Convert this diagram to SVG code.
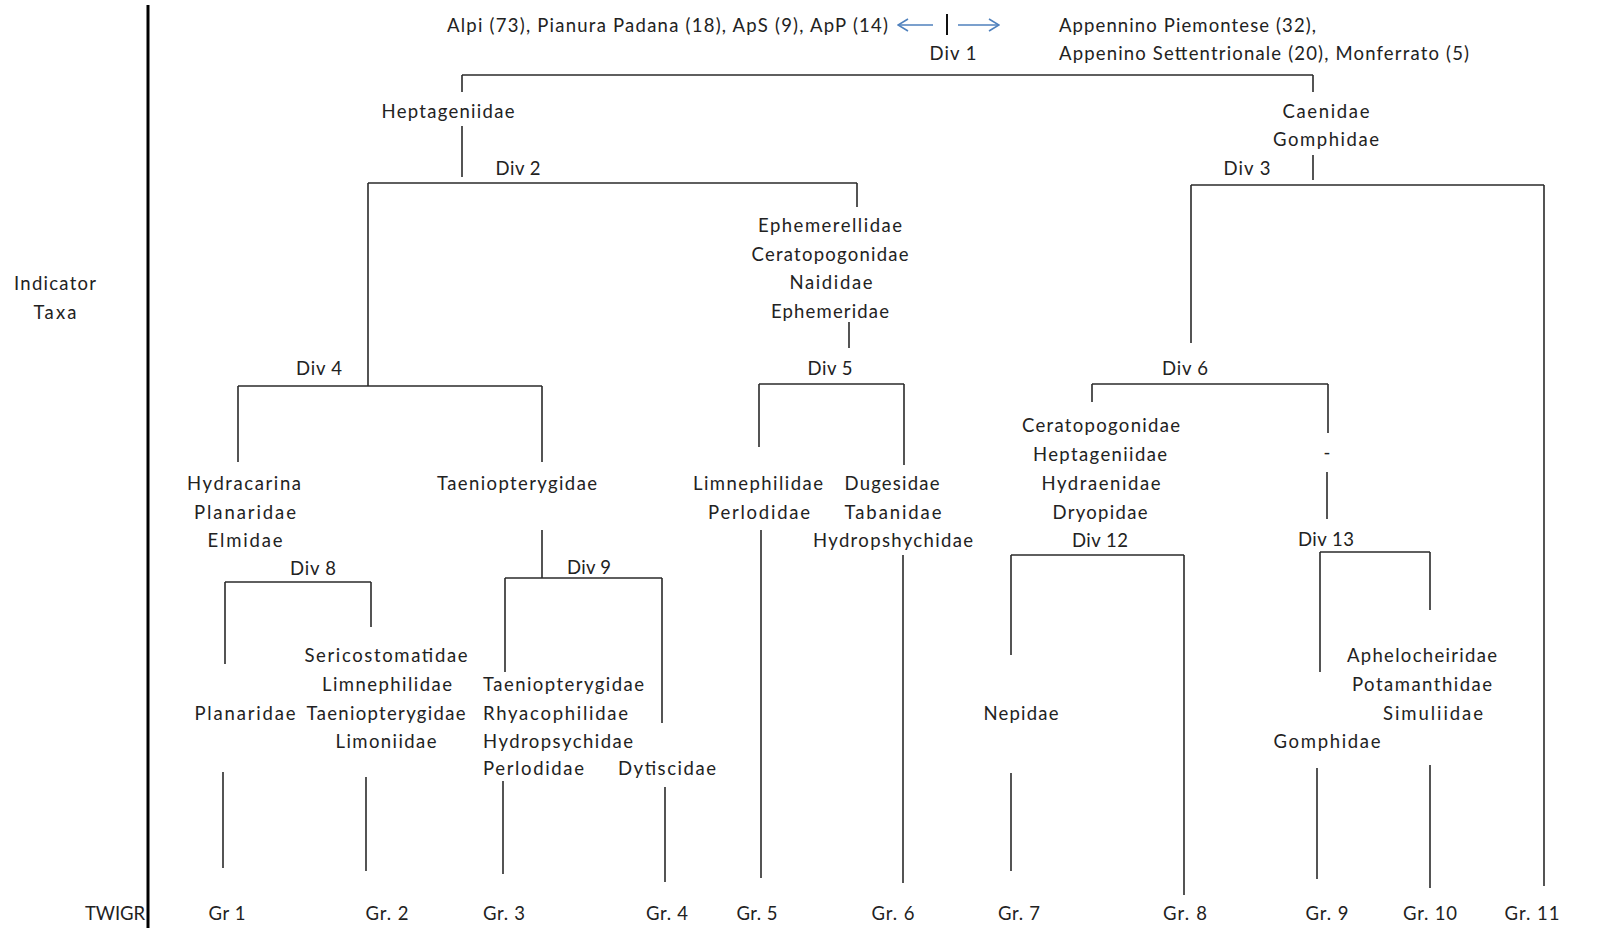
<svg xmlns="http://www.w3.org/2000/svg" width="1615" height="928" viewBox="0 0 1615 928">
<defs>
<style>
text{font-family:Lato,"Liberation Sans",sans-serif;font-size:18.5px;fill:#222}
.m{text-anchor:middle}
.s{text-anchor:start}
.ln line{stroke:#2a2a2a;stroke-width:1.6;fill:none}
.ax{stroke:#000;stroke-width:3}
.ar{stroke:#4f81bd;stroke-width:1.6;fill:none}
</style>
<marker id="ah" viewBox="0 0 12 14" refX="11" refY="7" markerWidth="12" markerHeight="14" markerUnits="userSpaceOnUse" orient="auto">
<path d="M1,1 L11,7 L1,13" fill="none" stroke="#4f81bd" stroke-width="1.6"/>
</marker>
</defs>
<rect width="1615" height="928" fill="#fff"/>

<g id="axis"><line class="ax" x1="148" y1="5" x2="148" y2="928"/></g>

<g id="side-labels">
<text class="m" x="55" y="290" textLength="82" lengthAdjust="spacing">Indicator</text>
<text class="m" x="55" y="319" textLength="43" lengthAdjust="spacing">Taxa</text>
<text class="s" x="85" y="920" textLength="60" lengthAdjust="spacing">TWIGR</text>
</g>

<g id="root">
<text class="s" x="447" y="32" textLength="441" lengthAdjust="spacing">Alpi (73), Pianura Padana (18), ApS (9), ApP (14)</text>
<text class="s" x="1059" y="32" textLength="257" lengthAdjust="spacing">Appennino Piemontese (32),</text>
<text class="s" x="1059" y="60" textLength="410" lengthAdjust="spacing">Appenino Settentrionale (20), Monferrato (5)</text>
<line class="ar" x1="933" y1="25" x2="898" y2="25" marker-end="url(#ah)"/>
<line x1="947" y1="14" x2="947" y2="35" stroke="#111" stroke-width="2"/>
<line class="ar" x1="958" y1="25" x2="999" y2="25" marker-end="url(#ah)"/>
<text class="m" x="953" y="60" textLength="47" lengthAdjust="spacing">Div 1</text>
</g>

<g id="n-heptageniidae"><text class="m" x="448" y="118" textLength="133" lengthAdjust="spacing">Heptageniidae</text></g>
<g id="n-caenidae">
<text class="m" x="1326" y="118" textLength="87" lengthAdjust="spacing">Caenidae</text>
<text class="m" x="1326" y="146" textLength="106" lengthAdjust="spacing">Gomphidae</text>
</g>
<g id="div2"><text class="m" x="518" y="175" textLength="45" lengthAdjust="spacing">Div 2</text></g>
<g id="div3"><text class="m" x="1247" y="175" textLength="47" lengthAdjust="spacing">Div 3</text></g>
<g id="n-ephemerellidae">
<text class="m" x="830" y="232" textLength="144" lengthAdjust="spacing">Ephemerellidae</text>
<text class="m" x="830" y="261" textLength="157" lengthAdjust="spacing">Ceratopogonidae</text>
<text class="m" x="831" y="289" textLength="83" lengthAdjust="spacing">Naididae</text>
<text class="m" x="830" y="318" textLength="118" lengthAdjust="spacing">Ephemeridae</text>
</g>
<g id="div4"><text class="m" x="319" y="375" textLength="46" lengthAdjust="spacing">Div 4</text></g>
<g id="div5"><text class="m" x="830" y="375" textLength="45" lengthAdjust="spacing">Div 5</text></g>
<g id="div6"><text class="m" x="1185" y="375" textLength="46" lengthAdjust="spacing">Div 6</text></g>
<g id="n-ceratopogonidae">
<text class="m" x="1101" y="432" textLength="158" lengthAdjust="spacing">Ceratopogonidae</text>
<text class="m" x="1100" y="461" textLength="134" lengthAdjust="spacing">Heptageniidae</text>
<text class="m" x="1101" y="490" textLength="119" lengthAdjust="spacing">Hydraenidae</text>
<text class="m" x="1100" y="519" textLength="95" lengthAdjust="spacing">Dryopidae</text>
<text class="m" x="1100" y="547" textLength="56" lengthAdjust="spacing">Div 12</text>
</g>
<g id="n-dash"><text class="m" x="1327" y="459">-</text></g>
<g id="div13"><text class="m" x="1326" y="546" textLength="56" lengthAdjust="spacing">Div 13</text></g>
<g id="n-hydracarina">
<text class="m" x="244" y="490" textLength="114" lengthAdjust="spacing">Hydracarina</text>
<text class="m" x="245" y="519" textLength="102" lengthAdjust="spacing">Planaridae</text>
<text class="m" x="245" y="547" textLength="75" lengthAdjust="spacing">Elmidae</text>
</g>
<g id="n-taeniopterygidae"><text class="m" x="517" y="490" textLength="160" lengthAdjust="spacing">Taeniopterygidae</text></g>
<g id="n-limnephilidae">
<text class="m" x="758" y="490" textLength="130" lengthAdjust="spacing">Limnephilidae</text>
<text class="m" x="759" y="519" textLength="102" lengthAdjust="spacing">Perlodidae</text>
</g>
<g id="n-dugesidae">
<text class="m" x="892" y="490" textLength="95" lengthAdjust="spacing">Dugesidae</text>
<text class="m" x="893" y="519" textLength="97" lengthAdjust="spacing">Tabanidae</text>
<text class="m" x="893" y="547" textLength="160" lengthAdjust="spacing">Hydropshychidae</text>
</g>
<g id="div8"><text class="m" x="313" y="575" textLength="46" lengthAdjust="spacing">Div 8</text></g>
<g id="div9"><text class="m" x="589" y="574" textLength="44" lengthAdjust="spacing">Div 9</text></g>
<g id="n-planaridae"><text class="m" x="245" y="720" textLength="101" lengthAdjust="spacing">Planaridae</text></g>
<g id="n-sericostomatidae">
<text class="m" x="386" y="662" textLength="163" lengthAdjust="spacing">Sericostomatidae</text>
<text class="m" x="387" y="691" textLength="130" lengthAdjust="spacing">Limnephilidae</text>
<text class="m" x="386" y="720" textLength="159" lengthAdjust="spacing">Taeniopterygidae</text>
<text class="m" x="386" y="748" textLength="101" lengthAdjust="spacing">Limoniidae</text>
</g>
<g id="n-taeniopterygidae2">
<text class="s" x="483" y="691" textLength="161" lengthAdjust="spacing">Taeniopterygidae</text>
<text class="s" x="483" y="720" textLength="145" lengthAdjust="spacing">Rhyacophilidae</text>
<text class="s" x="483" y="748" textLength="150" lengthAdjust="spacing">Hydropsychidae</text>
<text class="s" x="483" y="775" textLength="101" lengthAdjust="spacing">Perlodidae</text>
</g>
<g id="n-dytiscidae"><text class="m" x="667" y="775" textLength="98" lengthAdjust="spacing">Dytiscidae</text></g>
<g id="n-nepidae"><text class="m" x="1021" y="720" textLength="75" lengthAdjust="spacing">Nepidae</text></g>
<g id="n-aphelocheiridae">
<text class="m" x="1422" y="662" textLength="150" lengthAdjust="spacing">Aphelocheiridae</text>
<text class="m" x="1422" y="691" textLength="140" lengthAdjust="spacing">Potamanthidae</text>
<text class="m" x="1433" y="720" textLength="100" lengthAdjust="spacing">Simuliidae</text>
</g>
<g id="n-gomphidae"><text class="m" x="1327" y="748" textLength="107" lengthAdjust="spacing">Gomphidae</text></g>

<g id="groups">
<text class="m" x="227" y="920" textLength="37" lengthAdjust="spacing">Gr 1</text>
<text class="m" x="387" y="920" textLength="43" lengthAdjust="spacing">Gr. 2</text>
<text class="m" x="504" y="920" textLength="42" lengthAdjust="spacing">Gr. 3</text>
<text class="m" x="667" y="920" textLength="42" lengthAdjust="spacing">Gr. 4</text>
<text class="m" x="757" y="920" textLength="41" lengthAdjust="spacing">Gr. 5</text>
<text class="m" x="893" y="920" textLength="43" lengthAdjust="spacing">Gr. 6</text>
<text class="m" x="1019" y="920" textLength="42" lengthAdjust="spacing">Gr. 7</text>
<text class="m" x="1185" y="920" textLength="44" lengthAdjust="spacing">Gr. 8</text>
<text class="m" x="1327" y="920" textLength="43" lengthAdjust="spacing">Gr. 9</text>
<text class="m" x="1430" y="920" textLength="54" lengthAdjust="spacing">Gr. 10</text>
<text class="m" x="1532" y="920" textLength="55" lengthAdjust="spacing">Gr. 11</text>
</g>

<g id="connectors" class="ln">
<line x1="462" y1="75" x2="1313" y2="75"/>
<line x1="462" y1="75" x2="462" y2="92"/>
<line x1="1313" y1="75" x2="1313" y2="92"/>
<line x1="462" y1="126" x2="462" y2="177"/>
<line x1="368" y1="183" x2="857" y2="183"/>
<line x1="368" y1="183" x2="368" y2="386"/>
<line x1="857" y1="183" x2="857" y2="207"/>
<line x1="1313" y1="155" x2="1313" y2="180"/>
<line x1="1191" y1="185" x2="1544" y2="185"/>
<line x1="1191" y1="185" x2="1191" y2="343"/>
<line x1="1544" y1="185" x2="1544" y2="886"/>
<line x1="849" y1="322" x2="849" y2="348"/>
<line x1="759" y1="384" x2="904" y2="384"/>
<line x1="759" y1="384" x2="759" y2="447"/>
<line x1="904" y1="384" x2="904" y2="465"/>
<line x1="238" y1="386" x2="542" y2="386"/>
<line x1="238" y1="386" x2="238" y2="462"/>
<line x1="542" y1="386" x2="542" y2="462"/>
<line x1="542" y1="530" x2="542" y2="578"/>
<line x1="225" y1="582" x2="371" y2="582"/>
<line x1="225" y1="582" x2="225" y2="664"/>
<line x1="371" y1="582" x2="371" y2="627"/>
<line x1="505" y1="578" x2="662" y2="578"/>
<line x1="505" y1="578" x2="505" y2="672"/>
<line x1="662" y1="578" x2="662" y2="723"/>
<line x1="223" y1="772" x2="223" y2="868"/>
<line x1="366" y1="777" x2="366" y2="871"/>
<line x1="503" y1="781" x2="503" y2="874"/>
<line x1="665" y1="787" x2="665" y2="882"/>
<line x1="761" y1="530" x2="761" y2="878"/>
<line x1="903" y1="555" x2="903" y2="883"/>
<line x1="1092" y1="384" x2="1328" y2="384"/>
<line x1="1092" y1="384" x2="1092" y2="402"/>
<line x1="1328" y1="384" x2="1328" y2="433"/>
<line x1="1327" y1="472" x2="1327" y2="519"/>
<line x1="1011" y1="555" x2="1184" y2="555"/>
<line x1="1011" y1="555" x2="1011" y2="655"/>
<line x1="1184" y1="555" x2="1184" y2="895"/>
<line x1="1011" y1="773" x2="1011" y2="871"/>
<line x1="1320" y1="552" x2="1430" y2="552"/>
<line x1="1320" y1="552" x2="1320" y2="672"/>
<line x1="1430" y1="552" x2="1430" y2="610"/>
<line x1="1317" y1="768" x2="1317" y2="879"/>
<line x1="1430" y1="765" x2="1430" y2="888"/>
</g>
</svg>
